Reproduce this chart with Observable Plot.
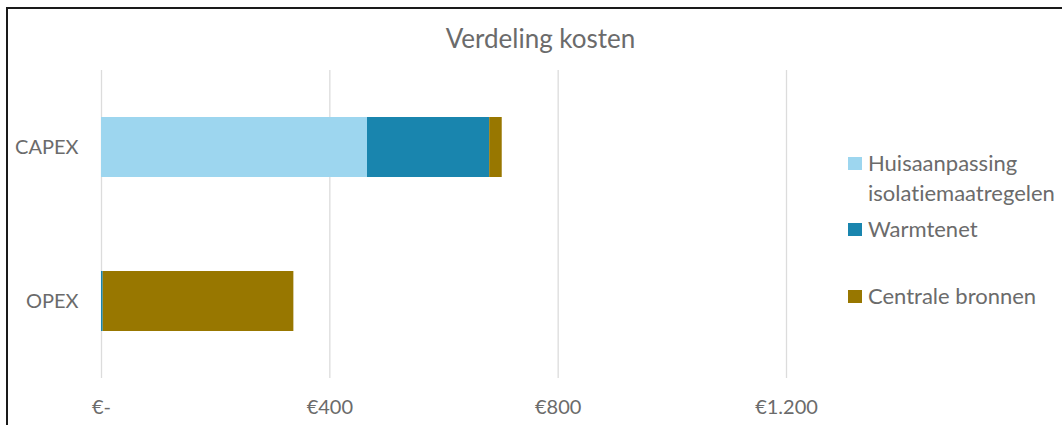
<!DOCTYPE html>
<html>
<head>
<meta charset="utf-8">
<script src="https://cdn.jsdelivr.net/npm/d3@7"></script>
<script src="https://cdn.jsdelivr.net/npm/@observablehq/plot@0.6"></script>
<style>
  html, body { margin: 0; padding: 0; background: #fff; }
  body { width: 1062px; height: 425px; position: relative; overflow: hidden; font-family: Lato, "Open Sans", sans-serif; color: #6b6b6b; font-variant-ligatures: none; }
  #frame { position: absolute; left: 6px; top: 7px; right: -10px; bottom: -10px; border-left: 2px solid #1a1a1a; border-top: 2px solid #1a1a1a; pointer-events: none; }
  #title { position: absolute; left: 0; width: 1081px; top: 22px; text-align: center; font-size: 26px; line-height: 32px; color: #6b6b6b; }
  #chart { position: absolute; left: 0; top: 0; }
  #legend { position: absolute; left: 848px; top: 0; font-size: 22px; color: #6b6b6b; }
  .sw { position: absolute; left: 0; width: 14px; height: 13px; }
  .lbl { position: absolute; left: 20px; white-space: nowrap; }
</style>
</head>
<body>
<div id="chart"></div>
<div id="title">Verdeling kosten</div>
<div id="legend"></div>
<div id="frame"></div>
<script>
const categories = ["CAPEX", "OPEX"];
const series = ["Huisaanpassing isolatiemaatregelen", "Warmtenet", "Centrale bronnen"];
const huisaanpassing = [466, 0];
const warmtenet = [214, 3];
const centrale = [22, 334];
const colors = ["#9dd6ef", "#1985ae", "#987700"];
const xTicks = [0, 400, 800, 1200];

const values = [huisaanpassing, warmtenet, centrale];
const table = [];
series.forEach((s, i) => categories.forEach((c, j) => table.push({category: c, series: s, value: values[i][j]})));

const fmt = v => v === 0 ? "€-" : "€" + d3.format(",")(v).replace(/,/g, ".");

const chart = Plot.plot({
  width: 1062,
  height: 425,
  marginLeft: 101,
  marginRight: 276,
  marginTop: 70,
  marginBottom: 47,
  style: {fontFamily: "Lato, 'Open Sans', sans-serif", fontSize: "20px", color: "#6b6b6b", background: "transparent"},
  x: {domain: [0, 1200], ticks: xTicks, tickFormat: fmt, tickSize: 0, tickPadding: 21, label: null},
  y: {domain: categories, paddingInner: 0.61, paddingOuter: 0.305, tickSize: 0, tickPadding: 23, label: null},
  color: {domain: series, range: colors},
  marks: [
    Plot.ruleX(xTicks, {stroke: "#dcdcdc", strokeWidth: 1.3}),
    Plot.barX(table, Plot.stackX({x: "value", y: "category", fill: "series", order: series}))
  ]
});
document.getElementById("chart").appendChild(chart);

const legend = document.getElementById("legend");
const items = [
  {lines: ["Huisaanpassing", "isolatiemaatregelen"], y: 163},
  {lines: ["Warmtenet"], y: 229},
  {lines: ["Centrale bronnen"], y: 296}
];
items.forEach((it, i) => {
  const sw = document.createElement("div");
  sw.className = "sw";
  sw.style.top = (it.y - 6.5) + "px";
  sw.style.background = colors[i];
  legend.appendChild(sw);
  it.lines.forEach((t, k) => {
    const l = document.createElement("div");
    l.className = "lbl";
    l.style.top = (it.y - 14 + k * 30) + "px";
    l.style.lineHeight = "28px";
    l.textContent = t;
    legend.appendChild(l);
  });
});
</script>
</body>
</html>
